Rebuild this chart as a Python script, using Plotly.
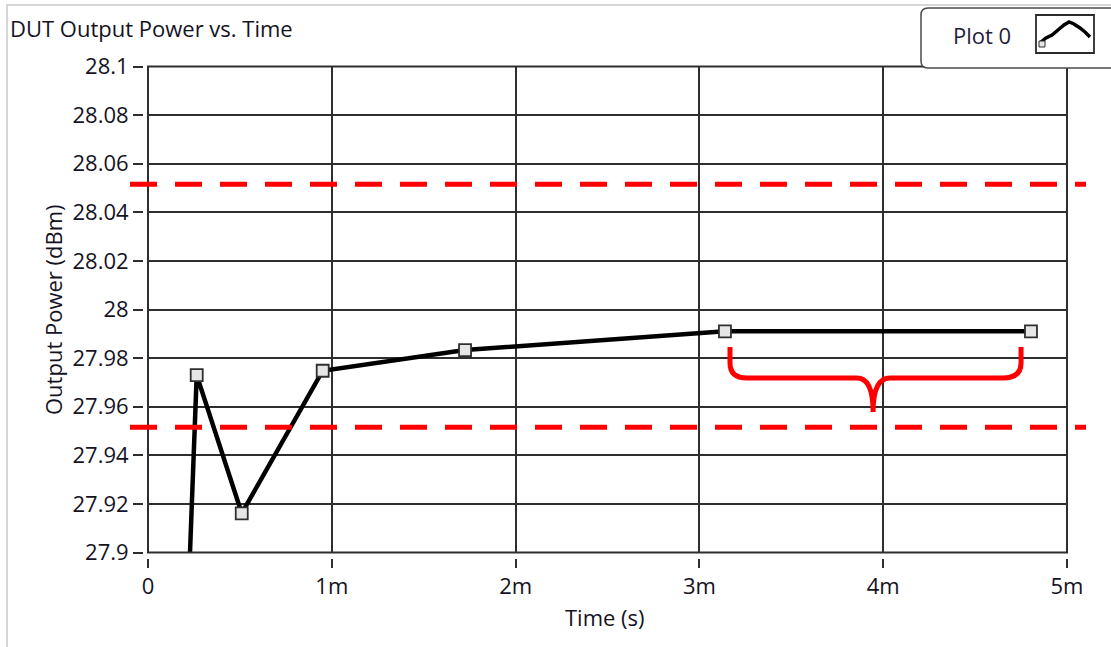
import plotly.graph_objects as go

W, H = 1111, 647

# ---- data ----
time_s = [0.0002035, 0.000265, 0.000510, 0.0009505, 0.001725, 0.003139, 0.004804]
power_dbm = [27.85, 27.973, 27.9161, 27.9748, 27.9833, 27.991, 27.991]

upper_limit = 28.0515
lower_limit = 27.9515

x_tickvals = [0, 0.001, 0.002, 0.003, 0.004, 0.005]
x_ticktext = ["0", "1m", "2m", "3m", "4m", "5m"]
y_tickvals = [27.9, 27.92, 27.94, 27.96, 27.98, 28.0, 28.02, 28.04, 28.06, 28.08, 28.1]
y_ticktext = ["27.9", "27.92", "27.94", "27.96", "27.98", "28", "28.02", "28.04", "28.06", "28.08", "28.1"]

# brace (annotation) key x positions (s) and y levels (dBm)
brace_x = [0.0031665, 0.003259, 0.003857, 0.003945, 0.004037, 0.004652, 0.00475]
brace_y = [27.9846, 27.978, 27.9718, 27.9578]

FONT = "Open Sans"
TXT = "#15131f"
GRID = "#2e2e2e"

# pixel -> paper helpers (margins are zero)
def px(x):
    return x / W

def py(y):
    return 1 - y / H

x_dom = [px(148), px(1067)]
y_dom = [py(552.5), py(66.5)]

fig = go.Figure()
fig.add_trace(go.Scatter(
    x=time_s, y=power_dbm, mode="lines+markers",
    line=dict(color="#000000", width=4.5),
    marker=dict(symbol="square", size=12, color="#e6e6e6",
                line=dict(color="#2f2f2f", width=1.8)),
    showlegend=False, hoverinfo="x+y",
))

shapes = []
# page border
shapes.append(dict(type="rect", xref="paper", yref="paper",
                   x0=px(7), x1=px(1130), y0=py(5), y1=py(670),
                   line=dict(color="#c9c9c9", width=1.5), layer="below"))
# plot frame
shapes.append(dict(type="rect", xref="x domain", yref="y domain",
                   x0=0, x1=1, y0=0, y1=1,
                   line=dict(color=GRID, width=2), layer="above"))
# limit lines
for lim in (upper_limit, lower_limit):
    shapes.append(dict(type="line", xref="paper", yref="y",
                       x0=px(130), x1=px(1086), y0=lim, y1=lim,
                       line=dict(color="#ff0000", width=5, dash="27px,18px"),
                       layer="above"))
# brace
bx, by = brace_x, brace_y
path = (f"M {bx[0]},{by[0]} L {bx[0]},{by[1]} "
        f"Q {bx[0]},{by[2]} {bx[1]},{by[2]} L {bx[2]},{by[2]} "
        f"Q {bx[3]},{by[2]} {bx[3]},{by[3]} "
        f"Q {bx[3]},{by[2]} {bx[4]},{by[2]} L {bx[5]},{by[2]} "
        f"Q {bx[6]},{by[2]} {bx[6]},{by[1]} L {bx[6]},{by[0]}")
shapes.append(dict(type="path", xref="x", yref="y", path=path,
                   line=dict(color="#ff0000", width=5), layer="above"))

# legend box (rounded)
lx0, lx1, ly0, ly1, r = 921, 1125, 8, 68, 7
lpath = (f"M {px(lx0 + r)},{py(ly0)} L {px(lx1)},{py(ly0)} L {px(lx1)},{py(ly1)} "
         f"L {px(lx0 + r)},{py(ly1)} Q {px(lx0)},{py(ly1)} {px(lx0)},{py(ly1 - r)} "
         f"L {px(lx0)},{py(ly0 + r)} Q {px(lx0)},{py(ly0)} {px(lx0 + r)},{py(ly0)} Z")
shapes.append(dict(type="path", xref="paper", yref="paper", path=lpath,
                   fillcolor="#ffffff", line=dict(color="#4a4a4a", width=1.5),
                   layer="above"))
# legend icon box
shapes.append(dict(type="rect", xref="paper", yref="paper",
                   x0=px(1036), x1=px(1094), y0=py(15), y1=py(53),
                   fillcolor="#ffffff", line=dict(color="#2a2a2a", width=1.8),
                   layer="above"))
icon_pts = [(1041, 42), (1046, 38), (1052, 35), (1058, 30), (1064, 25),
            (1069, 22), (1074, 24), (1080, 28), (1085, 32), (1090, 37)]
ipath = "M " + " L ".join(f"{px(a)},{py(b)}" for a, b in icon_pts)
shapes.append(dict(type="path", xref="paper", yref="paper", path=ipath,
                   line=dict(color="#000000", width=3.5), layer="above"))
shapes.append(dict(type="rect", xref="paper", yref="paper",
                   x0=px(1039), x1=px(1045), y0=py(41), y1=py(47),
                   fillcolor="#e6e6e6", line=dict(color="#2f2f2f", width=1),
                   layer="above"))

annotations = [
    dict(text="DUT Output Power vs. Time", xref="paper", yref="paper",
         x=px(8), y=py(28), xanchor="left", yanchor="middle", showarrow=False,
         font=dict(family=FONT, size=22, color=TXT)),
    dict(text="Output Power (dBm)", xref="paper", yref="paper",
         x=px(53), y=py(310), xanchor="center", yanchor="middle", showarrow=False,
         textangle=-90, font=dict(family=FONT, size=22, color=TXT)),
    dict(text="Time (s)", xref="paper", yref="paper",
         x=px(605), y=py(617), xanchor="center", yanchor="middle", showarrow=False,
         font=dict(family=FONT, size=22, color=TXT)),
    dict(text="Plot 0", xref="paper", yref="paper",
         x=px(982), y=py(35), xanchor="center", yanchor="middle", showarrow=False,
         font=dict(family=FONT, size=22, color="#241c3c")),
]

fig.update_layout(
    width=W, height=H,
    margin=dict(l=0, r=0, t=0, b=0, pad=0, autoexpand=False),
    paper_bgcolor="#ffffff", plot_bgcolor="#ffffff",
    font=dict(family=FONT, size=22, color=TXT),
    shapes=shapes, annotations=annotations,
    xaxis=dict(domain=x_dom, range=[0, 0.005], anchor="free", position=py(558),
               tickvals=x_tickvals, ticktext=x_ticktext,
               ticks="outside", ticklen=9, tickwidth=2, tickcolor=GRID,
               showgrid=True, gridcolor=GRID, gridwidth=2,
               showline=False, zeroline=False, automargin=False,
               tickfont=dict(family=FONT, size=22, color=TXT)),
    yaxis=dict(domain=y_dom, range=[27.9, 28.1], anchor="free", position=px(143),
               tickvals=y_tickvals, ticktext=y_ticktext,
               ticks="outside", ticklen=10, tickwidth=2, tickcolor=GRID,
               showgrid=True, gridcolor=GRID, gridwidth=2,
               showline=False, zeroline=False, automargin=False,
               tickfont=dict(family=FONT, size=22, color=TXT)),
)

fig.write_html("out.html", config={"displayModeBar": False},
               post_script="document.body.style.margin='0';")
